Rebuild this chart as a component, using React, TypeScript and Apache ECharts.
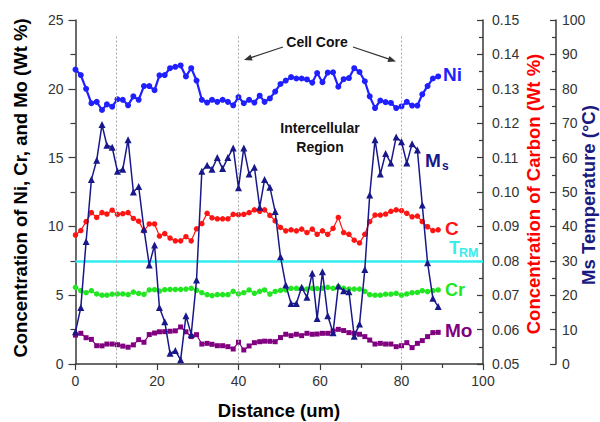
import React, { useEffect, useRef } from "react";
import * as echarts from "echarts";

// Distance (um) of each measurement point
const distance = [
  0, 1.3, 2.6, 3.9, 5.2, 6.5, 7.7, 9.0, 10.3, 11.6, 12.9, 14.2, 15.5, 16.8, 18.1, 19.4, 20.6, 21.9, 23.2, 24.5,
  25.8, 27.1, 28.4, 29.7, 31.0, 32.3, 33.5, 34.8, 36.1, 37.4, 38.7, 40.0, 41.3, 42.6, 43.9, 45.2, 46.4, 47.7, 49.0, 50.3,
  51.6, 52.9, 54.2, 55.5, 56.8, 58.1, 59.3, 60.6, 61.9, 63.2, 64.5, 65.8, 67.1, 68.4, 69.7, 71.0, 72.2, 73.5, 74.8, 76.1,
  77.4, 78.7, 80.0, 81.3, 82.6, 83.9, 85.1, 86.4, 87.7, 89.0,
];

// Ni (wt %)
const ni = [
  21.4, 21.0, 20.0, 18.95, 19.05, 18.46, 18.87, 18.7, 19.24, 19.2, 18.8, 19.45, 19.2, 20.2, 20.2, 19.9, 20.98, 21.0, 21.5, 21.6,
  21.7, 20.9, 21.5, 20.6, 19.2, 19.0, 19.2, 19.05, 19.2, 19.05, 18.8, 19.4, 18.95, 19.2, 19.0, 19.5, 19.05, 19.3, 19.8, 20.35,
  20.6, 20.85, 20.75, 20.75, 20.68, 20.45, 21.15, 20.48, 21.18, 21.2, 20.15, 20.7, 20.78, 21.5, 21.22, 20.55, 19.45, 18.6, 19.15, 19.03,
  18.97, 18.6, 18.72, 19.05, 18.78, 18.78, 19.6, 20.2, 20.75, 20.9,
];

// Ms temperature (°C)
const ms = [
  9.4, 16.4, 35.6, 53.6, 59.2, 69.6, 63.6, 63.0, 56.0, 56.6, 65.2, 50.0, 51.6, 39.2, 28.8, 34.6, 16.4, 12.3, 3.1, 3.9,
  1.2, 14.0, 8.6, 24.4, 56.0, 57.8, 56.6, 60.0, 56.8, 60.0, 62.8, 51.2, 62.8, 55.2, 57.2, 45.6, 53.6, 51.4, 44.3, 31.2,
  23.0, 17.6, 17.6, 22.3, 19.4, 26.4, 13.2, 26.8, 14.0, 9.1, 22.7, 21.3, 21.0, 8.1, 11.6, 27.5, 49.1, 65.2, 55.2, 61.2,
  58.4, 66.0, 64.6, 58.4, 64.0, 62.2, 46.2, 29.4, 19.1, 16.7,
];

// Carbon (wt %)
const carbon = [
  0.0875, 0.0888, 0.0914, 0.094, 0.0926, 0.094, 0.0936, 0.0947, 0.0935, 0.0937, 0.094, 0.0923, 0.0915, 0.0887, 0.0907, 0.0907, 0.0872, 0.0879, 0.0866, 0.0858,
  0.0858, 0.087, 0.0858, 0.0893, 0.0908, 0.0938, 0.0925, 0.0922, 0.0922, 0.0922, 0.0935, 0.0934, 0.0935, 0.094, 0.0948, 0.0944, 0.0948, 0.0932, 0.0916, 0.0897,
  0.0887, 0.089, 0.0887, 0.0892, 0.0882, 0.0892, 0.0877, 0.0887, 0.0877, 0.0894, 0.0926, 0.0882, 0.0877, 0.086, 0.0852, 0.0877, 0.0914, 0.0933, 0.0933, 0.0936,
  0.0944, 0.0948, 0.0946, 0.0938, 0.0928, 0.093, 0.0914, 0.0899, 0.0888, 0.089,
];

// Cr (wt %)
const cr = [
  5.57, 5.33, 5.18, 5.33, 5.09, 5.0, 5.0, 5.07, 5.09, 5.09, 5.04, 5.23, 5.13, 5.06, 5.38, 5.4, 5.3, 5.4, 5.42, 5.42,
  5.42, 5.45, 5.5, 5.36, 5.18, 5.04, 4.97, 5.04, 5.04, 5.04, 5.28, 5.09, 5.18, 5.38, 5.14, 5.28, 5.38, 5.08, 5.27, 5.35,
  5.38, 5.5, 5.5, 5.5, 5.45, 5.5, 5.48, 5.5, 5.57, 5.5, 5.62, 5.5, 5.45, 5.45, 5.45, 5.28, 5.04, 5.0, 5.0, 5.07,
  5.07, 5.14, 5.0, 5.09, 5.18, 5.2, 5.33, 5.26, 5.33, 5.38,
];

// Mo (wt %)
const mo = [
  2.1, 2.23, 1.91, 1.79, 1.33, 1.32, 1.45, 1.45, 1.4, 1.3, 1.22, 1.39, 1.77, 1.58, 2.14, 2.25, 2.34, 2.35, 2.38, 2.41,
  2.69, 2.34, 1.99, 2.13, 1.45, 1.5, 1.43, 1.33, 1.33, 1.26, 1.09, 1.58, 1.02, 1.31, 1.55, 1.62, 1.66, 1.65, 1.62, 1.92,
  2.16, 2.06, 2.16, 2.06, 2.23, 2.16, 2.18, 2.23, 2.23, 2.4, 2.52, 2.43, 2.28, 2.23, 2.16, 1.99, 1.74, 1.45, 1.5, 1.45,
  1.45, 1.26, 1.33, 1.55, 1.19, 1.5, 1.7, 1.99, 2.28, 2.3,
];

const trm = 7.5; // T_RM level on the left axis (Ms 30 °C)
const cellLines = [10, 40, 80];

const FONT = "Arial, 'Liberation Sans', Helvetica, sans-serif";
const C_NI = "#1f1fff";
const C_MS = "#18188a";
const C_C = "#ff1414";
const C_CR = "#22e622";
const C_MO = "#800080";
const C_TRM = "#33eeee";
const AXIS = "#3a3a3a";

function arrow(x1: number, y1: number, x2: number, y2: number) {
  const dx = x2 - x1, dy = y2 - y1;
  const len = Math.hypot(dx, dy);
  const ux = dx / len, uy = dy / len;
  const nx = -uy, ny = ux;
  const hl = 8, hw = 3.2;
  return [
    { type: "line", shape: { x1, y1, x2: x2 - ux * hl * 0.8, y2: y2 - uy * hl * 0.8 }, style: { stroke: "#333", lineWidth: 1.3 } },
    {
      type: "polygon",
      shape: { points: [[x2, y2], [x2 - ux * hl + nx * hw, y2 - uy * hl + ny * hw], [x2 - ux * hl - nx * hw, y2 - uy * hl - ny * hw]] },
      style: { fill: "#333" },
    },
  ];
}

export default function App() {
  const ref = useRef<HTMLDivElement>(null);
  useEffect(() => {
    const chart = echarts.init(ref.current!, null, { renderer: "svg" });
    const pair = (arr: number[]) => distance.map((d, i) => [d, arr[i]]);
    const labelStyle = { color: "#333", fontSize: 14, fontFamily: FONT };
    const axisLine = { show: true, lineStyle: { color: AXIS, width: 1.5 } };
    const option: any = {
      animation: false,
      backgroundColor: "#fff",
      grid: { left: 75.5, right: 117, top: 20, bottom: 58 },
      xAxis: {
        type: "value",
        min: 0,
        max: 100,
        interval: 20,
        axisLine,
        axisTick: { show: true, length: 6, lineStyle: { color: AXIS, width: 1.2 } },
        minorTick: { show: true, splitNumber: 2, length: 4, lineStyle: { color: AXIS, width: 1.2 } },
        splitLine: { show: false },
        axisLabel: { ...labelStyle, margin: 10 },
      },
      yAxis: [
        {
          type: "value",
          min: 0,
          max: 25,
          interval: 5,
          position: "left",
          axisLine,
          axisTick: { show: true, length: 7, lineStyle: { color: AXIS, width: 1.2 } },
          minorTick: { show: true, splitNumber: 2, length: 5, lineStyle: { color: AXIS, width: 1.2 } },
          splitLine: { show: false },
          axisLabel: { ...labelStyle, margin: 12 },
        },
        {
          type: "value",
          min: 0.05,
          max: 0.15,
          interval: 0.01,
          position: "right",
          axisLine,
          axisTick: { show: true, inside: true, length: 6, lineStyle: { color: AXIS, width: 1.2 } },
          minorTick: { show: true, splitNumber: 2, length: 4, lineStyle: { color: AXIS, width: 1.2 } },
          splitLine: { show: false },
          axisLabel: { ...labelStyle, margin: 9, formatter: (v: number) => v.toFixed(2) },
        },
        {
          type: "value",
          min: 0,
          max: 100,
          interval: 10,
          position: "right",
          offset: 73,
          axisLine,
          axisTick: { show: true, inside: true, length: 6, lineStyle: { color: AXIS, width: 1.2 } },
          minorTick: { show: true, splitNumber: 2, length: 4, lineStyle: { color: AXIS, width: 1.2 } },
          splitLine: { show: false },
          axisLabel: { ...labelStyle, margin: 6 },
        },
      ],
      series: [
        {
          name: "Mo",
          type: "line",
          yAxisIndex: 0,
          data: pair(mo),
          symbol: "rect",
          symbolSize: 5,
          lineStyle: { color: C_MO, width: 1.2 },
          itemStyle: { color: C_MO },
          z: 3,
        },
        {
          name: "Cr",
          type: "line",
          yAxisIndex: 0,
          data: pair(cr),
          symbol: "circle",
          symbolSize: 5.5,
          lineStyle: { color: C_CR, width: 1.2 },
          itemStyle: { color: C_CR },
          z: 3,
          markLine: {
            silent: true,
            symbol: "none",
            label: { show: false },
            lineStyle: { color: C_TRM, width: 2.5, type: "solid" },
            data: [{ yAxis: trm }],
            z: 1,
          },
        },
        {
          name: "C",
          type: "line",
          yAxisIndex: 1,
          data: pair(carbon),
          symbol: "circle",
          symbolSize: 5.5,
          lineStyle: { color: C_C, width: 1.2 },
          itemStyle: { color: C_C },
          z: 3,
        },
        {
          name: "Ni",
          type: "line",
          yAxisIndex: 0,
          data: pair(ni),
          symbol: "circle",
          symbolSize: 6,
          lineStyle: { color: C_NI, width: 2.2 },
          itemStyle: { color: C_NI },
          z: 4,
          markLine: {
            silent: true,
            symbol: "none",
            label: { show: false },
            lineStyle: { color: "#aaa", width: 1, type: [2, 2] },
            data: cellLines.map((x) => [{ coord: [x, 23.8] }, { coord: [x, 0] }]),
          },
        },
        {
          name: "Ms",
          type: "line",
          yAxisIndex: 2,
          data: pair(ms),
          symbol: "triangle",
          symbolSize: 7,
          lineStyle: { color: C_MS, width: 1.5 },
          itemStyle: { color: C_MS },
          z: 5,
        },
      ],
      graphic: [
        { type: "text", x: 20, y: 188, rotation: Math.PI / 2, style: { text: "Concentration of Ni, Cr, and Mo (Wt %)", fill: "#000", font: `bold 18.5px ${FONT}`, textAlign: "center", textVerticalAlign: "middle" } },
        { type: "text", x: 533, y: 194, rotation: Math.PI / 2, style: { text: "Concentration of Carbon (Wt %)", fill: "#ff0000", font: `bold 18.5px ${FONT}`, textAlign: "center", textVerticalAlign: "middle" } },
        { type: "text", x: 588, y: 195, rotation: Math.PI / 2, style: { text: "Ms Temperature (°C)", fill: "#1a1a80", font: `bold 18.5px ${FONT}`, textAlign: "center", textVerticalAlign: "middle" } },
        { type: "text", x: 279, y: 410, style: { text: "Distance (um)", fill: "#000", font: `bold 18.5px ${FONT}`, textAlign: "center", textVerticalAlign: "middle" } },
        { type: "text", x: 317, y: 42, style: { text: "Cell Core", fill: "#111", font: `bold 14px ${FONT}`, textAlign: "center", textVerticalAlign: "middle" } },
        { type: "text", x: 320, y: 128, style: { text: "Intercellular", fill: "#111", font: `bold 14px ${FONT}`, textAlign: "center", textVerticalAlign: "middle" } },
        { type: "text", x: 320, y: 147, style: { text: "Region", fill: "#111", font: `bold 14px ${FONT}`, textAlign: "center", textVerticalAlign: "middle" } },
        ...arrow(283, 47, 244, 60),
        ...arrow(353, 47, 396, 61.5),
        { type: "text", x: 443, y: 74, style: { text: "Ni", fill: C_NI, font: `bold 19px ${FONT}`, textAlign: "left", textVerticalAlign: "middle" } },
        { type: "text", x: 425, y: 160, style: { text: "M", fill: C_MS, font: `bold 19px ${FONT}`, textAlign: "left", textVerticalAlign: "middle" } },
        { type: "text", x: 442, y: 166, style: { text: "s", fill: C_MS, font: `bold 12px ${FONT}`, textAlign: "left", textVerticalAlign: "middle" } },
        { type: "text", x: 445, y: 228, style: { text: "C", fill: C_C, font: `bold 19px ${FONT}`, textAlign: "left", textVerticalAlign: "middle" } },
        { type: "text", x: 449, y: 248, style: { text: "T", fill: C_TRM, font: `bold 18px ${FONT}`, textAlign: "left", textVerticalAlign: "middle" } },
        { type: "text", x: 459, y: 253, style: { text: "RM", fill: C_TRM, font: `bold 12.5px ${FONT}`, textAlign: "left", textVerticalAlign: "middle" } },
        { type: "text", x: 445, y: 290, style: { text: "Cr", fill: C_CR, font: `bold 18px ${FONT}`, textAlign: "left", textVerticalAlign: "middle" } },
        { type: "text", x: 445, y: 330, style: { text: "Mo", fill: C_MO, font: `bold 19px ${FONT}`, textAlign: "left", textVerticalAlign: "middle" } },
      ],
    };
    chart.setOption(option);
    return () => chart.dispose();
  }, []);
  return <div ref={ref} style={{ position: "fixed", left: 0, top: 0, width: 600, height: 422, background: "#fff" }} />;
}
